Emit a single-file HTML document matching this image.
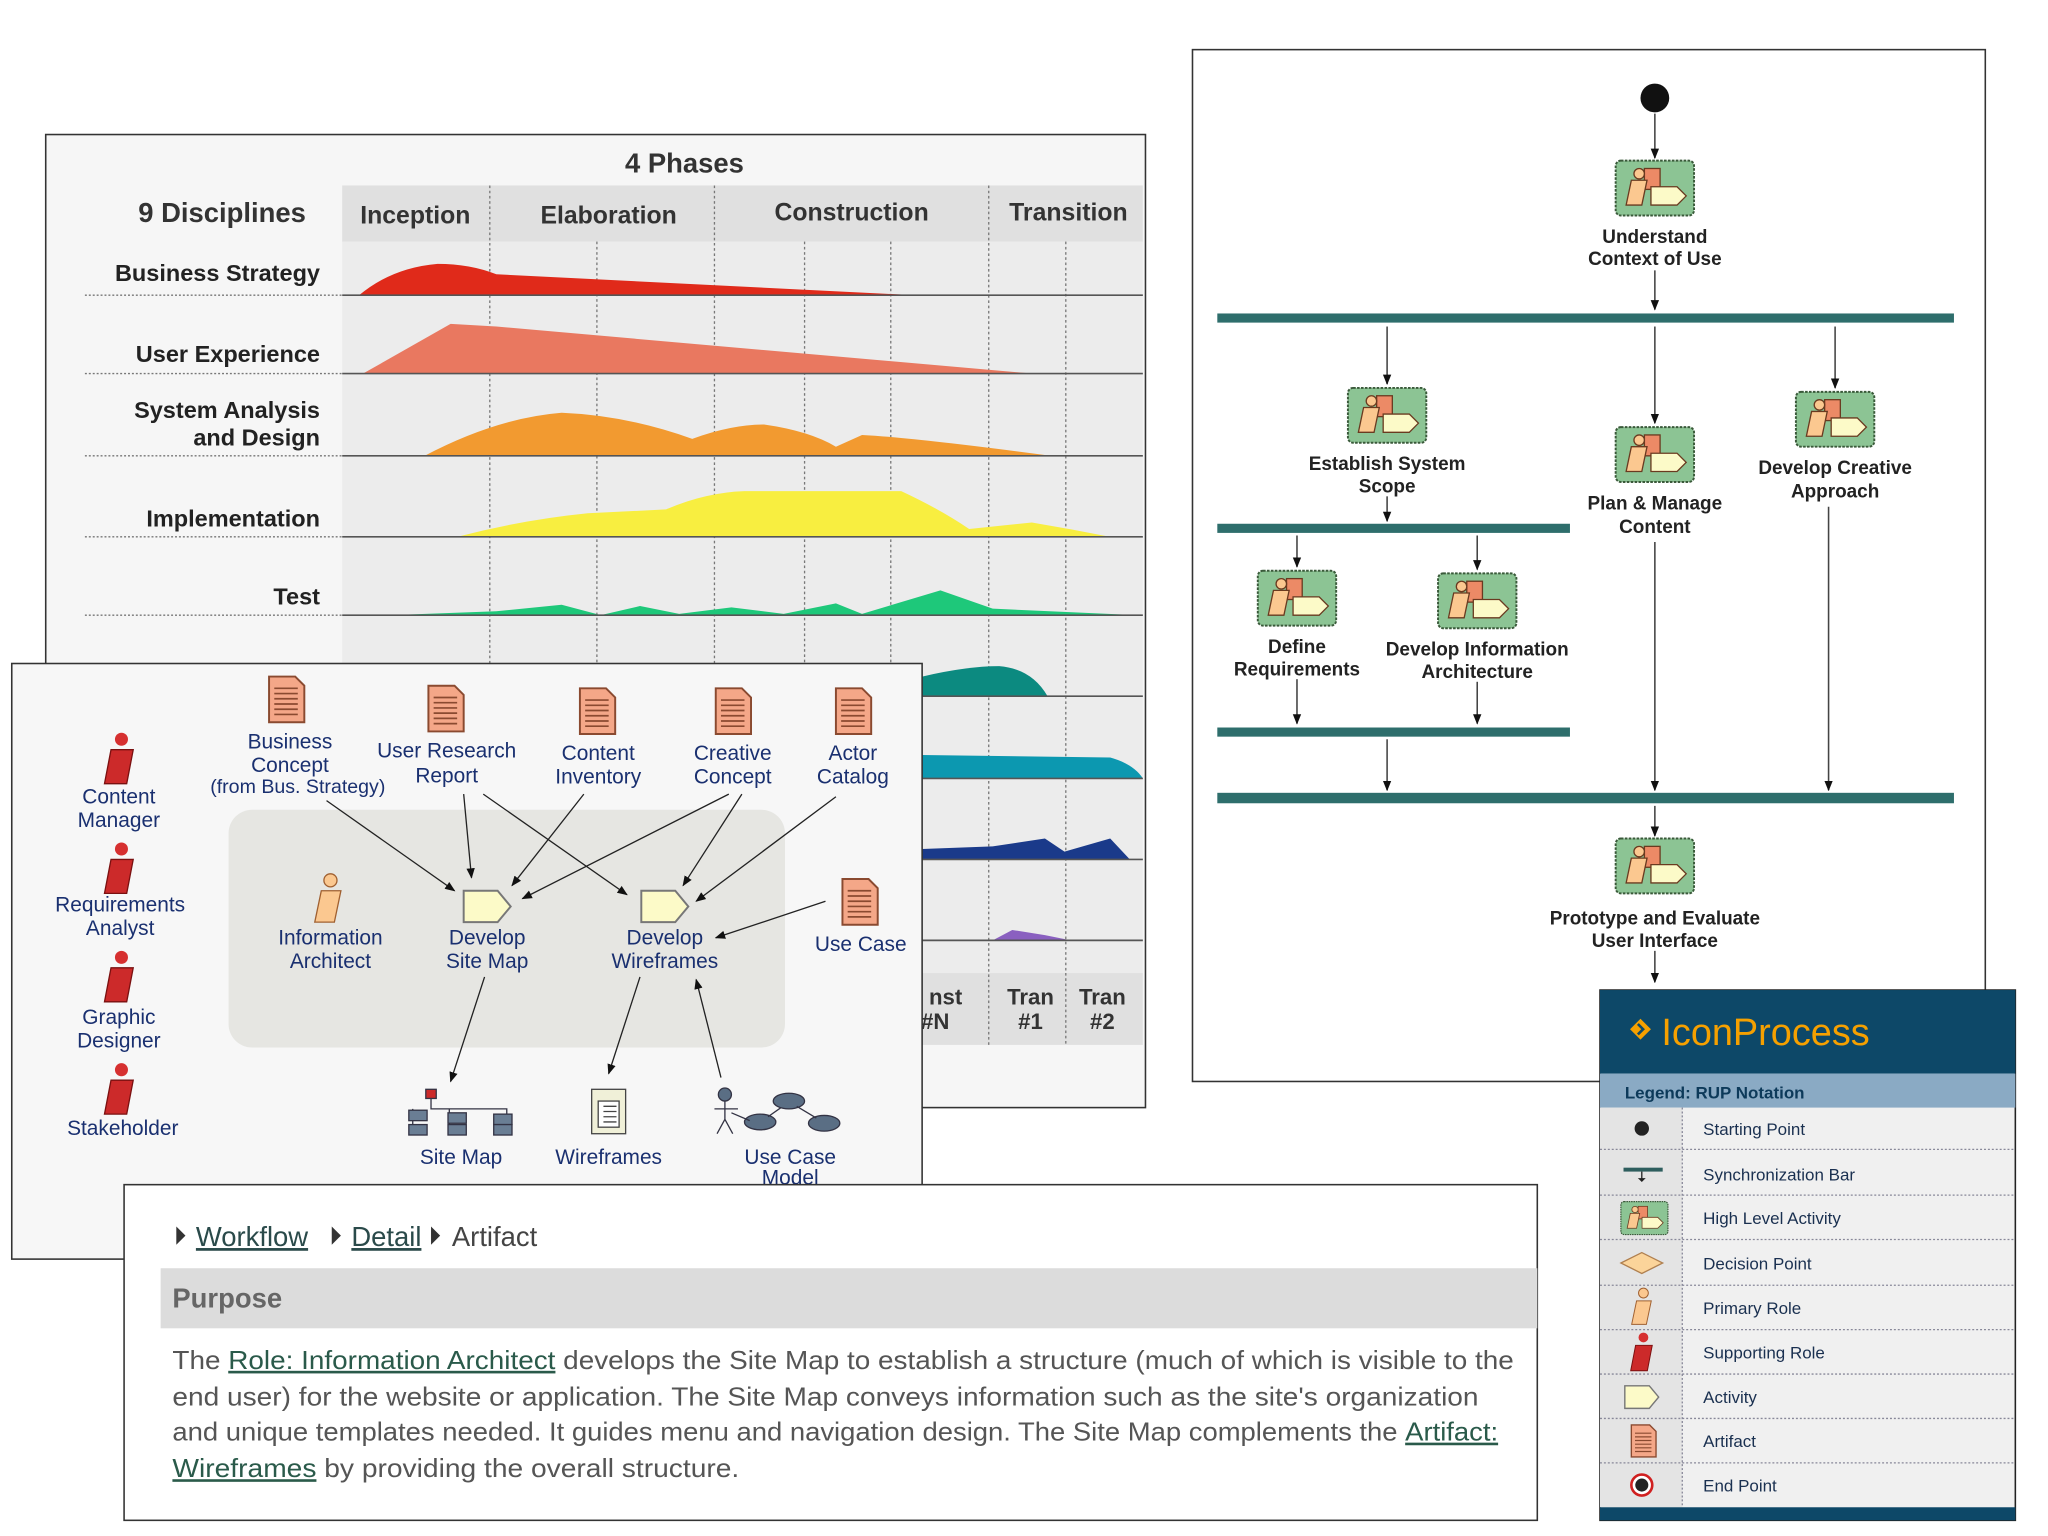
<!DOCTYPE html>
<html><head><meta charset="utf-8"><style>
html,body{margin:0;padding:0;background:#fff;width:2048px;height:1536px;overflow:hidden}
svg{display:block}
.lab{font-family:"Liberation Sans",sans-serif}
</style></head><body>
<svg width="2048" height="1536" viewBox="0 0 1568 1176" xmlns="http://www.w3.org/2000/svg" class="lab">
<defs>
<marker id="ah" viewBox="0 0 10 10" refX="9" refY="5" markerWidth="8" markerHeight="8" markerUnits="userSpaceOnUse" orient="auto"><path d="M0,1 L10,5 L0,9 z" fill="#111"/></marker>
<g id="art"><path d="M0,0 H20 L27,7 V35 H0 Z" fill="#f4a788" stroke="#8a4a30" stroke-width="1.5"/><path d="M4,9h18M4,13h18M4,17h18M4,21h18M4,25h18M4,29h18" stroke="#8a4a30" stroke-width="1.3"/></g>
<g id="role"><circle cx="3" cy="-4" r="5" fill="#d63030"/><path d="M-5,4 H12 L7,30 H-10 Z" fill="#cc2a2a" stroke="#7a1010"/></g>
<g id="prole"><circle cx="3" cy="-4" r="5" fill="#fbc890" stroke="#a06030"/><path d="M-4,4 H11 L6,28 H-9 Z" fill="#fbc890" stroke="#a06030"/></g>
<g id="act"><path d="M0,0 H26 L36,12 L26,24 H0 Z" fill="#fcfac8" stroke="#777" stroke-width="1.5"/></g>
<g id="hla"><rect x="0" y="0" width="60" height="42" rx="4" fill="#8cc494" stroke="#3a5a3a" stroke-width="1.5" stroke-dasharray="2 1"/><rect x="22" y="6" width="12" height="16" fill="#ec8a66" stroke="#6a3a20"/><circle cx="18" cy="10" r="4" fill="#fbc890" stroke="#6a3a20"/><path d="M12,15h12l-4,19h-12z" fill="#fbc890" stroke="#6a3a20"/><path d="M27,20h20l7,7l-7,7h-20z" fill="#fcfac8" stroke="#6a3a20"/></g>
</defs>

<!-- Panel A: phases chart -->
<rect x="35" y="103" width="842" height="745" fill="#f6f6f6" stroke="#333" stroke-width="1.2"/>
<rect x="262" y="185" width="613" height="560" fill="#ececec"/>
<rect x="262" y="142" width="613" height="43" fill="#e0e0e0"/>
<rect x="262" y="745" width="613" height="55" fill="#e0e0e0"/>
<g stroke="#777" stroke-dasharray="2 2" stroke-width="1">
<path d="M375,142V800M457,185V745M547,142V800M616,185V745M682,185V745M757,142V800M816,185V800"/>
</g>
<text x="524" y="132" font-size="21" font-weight="bold" fill="#333" text-anchor="middle">4 Phases</text>
<text x="170" y="170" font-size="21" font-weight="bold" fill="#333" text-anchor="middle">9 Disciplines</text>
<g font-size="19" font-weight="bold" fill="#333" text-anchor="middle">
<text x="318" y="171">Inception</text><text x="466" y="171">Elaboration</text><text x="652" y="169">Construction</text><text x="818" y="169">Transition</text>
<text x="789" y="769" font-size="17">Tran</text><text x="789" y="788" font-size="17">#1</text>
<text x="844" y="769" font-size="17">Tran</text><text x="844" y="788" font-size="17">#2</text>
<text x="724" y="769" font-size="17">nst</text><text x="716" y="788" font-size="17">#N</text>
</g>
<path d="M275,226 Q300,205 335,202 Q360,202 380,210 L700,226Z" fill="#e02a1a"/>
<path d="M278,286 L345,248 L380,250 L790,286Z" fill="#e97860"/>
<path d="M325,349 Q380,320 430,316 Q480,318 530,336 Q560,325 585,325 Q620,330 640,342 L660,333 Q700,335 805,349Z" fill="#f29a30"/>
<path d="M350,411 Q400,398 450,393 L510,390 Q540,377 570,376 L690,376 Q720,390 742,405 L790,400 Q820,405 850,411Z" fill="#f8ee40"/>
<path d="M300,471 L380,468 L430,463 L460,471 L490,464 L520,470 L560,465 L600,470 L640,462 L660,470 L720,452 L760,466 L870,471Z" fill="#1ec87a"/>
<path d="M706,533 L706,518 Q740,510 765,510 Q790,512 802,533Z" fill="#0c8a80"/>
<path d="M706,596 L706,578 L850,580 Q868,585 875,596Z" fill="#0c98b0"/>
<path d="M706,658 L706,650 L760,648 L800,642 L815,652 L850,642 L865,658Z" fill="#1a3a8a"/>
<path d="M760,720 L775,712 L800,716 L820,720Z" fill="#8a60c0"/>
<g stroke="#555" stroke-width="1.3">
<path d="M262,226H875M262,286H875M262,349H875M262,411H875M262,471H875M706,533H875M706,596H875M706,658H875M706,720H875"/>
</g>
<g stroke="#777" stroke-dasharray="1.5 1.5"><path d="M65,226H262M65,286H262M65,349H262M65,411H262M65,471H262"/></g>
<g font-size="18" font-weight="bold" fill="#222" text-anchor="end">
<text x="245" y="215">Business Strategy</text><text x="245" y="277">User Experience</text>
<text x="245" y="320">System Analysis</text><text x="245" y="341">and Design</text>
<text x="245" y="403">Implementation</text><text x="245" y="463">Test</text>
</g>

<!-- Panel D: workflow -->
<rect x="913" y="38" width="607" height="790" fill="#fff" stroke="#333" stroke-width="1.2"/>
<circle cx="1267" cy="75" r="11" fill="#111"/>
<g fill="#2e6e6c"><rect x="932" y="240" width="564" height="7"/><rect x="932" y="401" width="270" height="7"/><rect x="932" y="557" width="270" height="7"/><rect x="932" y="607" width="564" height="8"/></g>
<g stroke="#444" stroke-width="1.2" marker-end="url(#ah)">
<path d="M1267,87V121"/><path d="M1267,207V237"/><path d="M1062,250V294"/><path d="M1267,250V324"/><path d="M1405,250V297"/><path d="M1062,380V399"/><path d="M993,410V434"/><path d="M1131,410V436"/><path d="M993,520V554"/><path d="M1131,522V554"/><path d="M1062,566V605"/><path d="M1267,415V605"/><path d="M1400,388V605"/><path d="M1267,617V640"/><path d="M1267,728V752"/>
</g>
<use href="#hla" x="1237" y="123"/><use href="#hla" x="1032" y="297"/><use href="#hla" x="1237" y="327"/><use href="#hla" x="1375" y="300"/>
<use href="#hla" x="963" y="437"/><use href="#hla" x="1101" y="439"/><use href="#hla" x="1237" y="642"/>
<g font-size="14.5" font-weight="bold" fill="#222" text-anchor="middle">
<text x="1267" y="186">Understand</text><text x="1267" y="203">Context of Use</text>
<text x="1062" y="360">Establish System</text><text x="1062" y="377">Scope</text>
<text x="1267" y="390">Plan &amp; Manage</text><text x="1267" y="408">Content</text>
<text x="1405" y="363">Develop Creative</text><text x="1405" y="381">Approach</text>
<text x="993" y="500">Define</text><text x="993" y="517">Requirements</text>
<text x="1131" y="502">Develop Information</text><text x="1131" y="519">Architecture</text>
<text x="1267" y="708">Prototype and Evaluate</text><text x="1267" y="725">User Interface</text>
</g>

<!-- Panel B: detail -->
<rect x="9" y="508" width="697" height="456" fill="#f7f7f7" stroke="#333" stroke-width="1.2"/>
<rect x="175" y="620" width="426" height="182" rx="18" fill="#e6e6e2"/>
<use href="#role" x="90" y="570"/><use href="#role" x="90" y="654"/><use href="#role" x="90" y="737"/><use href="#role" x="90" y="823"/>
<use href="#art" x="206" y="518"/><use href="#art" x="328" y="525"/><use href="#art" x="444" y="527"/><use href="#art" x="548" y="527"/><use href="#art" x="640" y="527"/><use href="#art" x="645" y="673"/>
<use href="#prole" x="250" y="678"/>
<use href="#act" x="355" y="682"/><use href="#act" x="491" y="682"/>
<g fill="#6a7e94" stroke="#334"><rect x="326" y="834" width="8" height="7" fill="#cc2a2a"/><path d="M330,841V849H388V862M344,849V862M316,849V868" fill="none"/><rect x="313" y="850" width="14" height="8"/><rect x="313" y="861" width="14" height="8"/><rect x="343" y="852" width="14" height="8"/><rect x="343" y="861" width="14" height="8"/><rect x="378" y="853" width="14" height="8"/><rect x="378" y="861" width="14" height="8"/></g>
<g stroke="#444" fill="#f0f0d8"><rect x="453" y="834" width="26" height="34"/><rect x="458" y="843" width="16" height="20" fill="#fff"/><path d="M462,847h10M462,851h10M462,855h10M462,859h10"/></g>
<g fill="#5a6e84" stroke="#334"><circle cx="555" cy="838" r="5"/><path d="M555,843V857M547,849H565M555,857L549,868M555,857L561,868" fill="none"/><ellipse cx="604" cy="843" rx="12" ry="6"/><ellipse cx="582" cy="859" rx="12" ry="6"/><ellipse cx="631" cy="860" rx="12" ry="6"/><path d="M560,852L574,858M610,847L625,856M598,848L588,855" fill="none"/></g>
<g stroke="#222" stroke-width="1" marker-end="url(#ah)">
<path d="M250,613L348,682"/><path d="M355,608L361,672"/><path d="M447,608L392,678"/><path d="M370,608L480,685"/><path d="M558,608L400,688"/><path d="M568,608L523,678"/><path d="M640,610L533,690"/><path d="M632,690L548,718"/><path d="M371,748L345,828"/><path d="M490,748L466,822"/><path d="M552,825L533,750"/>
</g>
<g font-size="16" fill="#1a3070" text-anchor="middle">
<text x="91" y="615">Content</text><text x="91" y="633">Manager</text>
<text x="92" y="698">Requirements</text><text x="92" y="716">Analyst</text>
<text x="91" y="784">Graphic</text><text x="91" y="802">Designer</text>
<text x="94" y="869">Stakeholder</text>
<text x="222" y="573">Business</text><text x="222" y="591">Concept</text><text x="228" y="607" font-size="15">(from Bus. Strategy)</text>
<text x="342" y="580">User Research</text><text x="342" y="599">Report</text>
<text x="458" y="582">Content</text><text x="458" y="600">Inventory</text>
<text x="561" y="582">Creative</text><text x="561" y="600">Concept</text>
<text x="653" y="582">Actor</text><text x="653" y="600">Catalog</text>
<text x="253" y="723">Information</text><text x="253" y="741">Architect</text>
<text x="373" y="723">Develop</text><text x="373" y="741">Site Map</text>
<text x="509" y="723">Develop</text><text x="509" y="741">Wireframes</text>
<text x="659" y="728">Use Case</text>
<text x="353" y="891">Site Map</text><text x="466" y="891">Wireframes</text>
<text x="605" y="891">Use Case</text><text x="605" y="907">Model</text>
</g>

<!-- Panel C: description -->
<rect x="95" y="907" width="1082" height="257" fill="#fff" stroke="#333" stroke-width="1.2"/>
<g fill="#333"><path d="M135,939l7,7l-7,7z"/><path d="M254,939l7,7l-7,7z"/><path d="M330,939l7,7l-7,7z"/></g>
<g font-size="21" fill="#444">
<text x="150" y="954" text-decoration="underline" fill="#2a4a4a">Workflow</text>
<text x="269" y="954" text-decoration="underline" fill="#2a4a4a">Detail</text>
<text x="346" y="954">Artifact</text>
</g>
<rect x="123" y="971" width="1054" height="46" fill="#dcdcdc"/>
<text x="132" y="1001" font-size="21" font-weight="bold" fill="#666">Purpose</text>
<g font-size="20" fill="#555">
<text x="132" y="1048" textLength="1027" lengthAdjust="spacingAndGlyphs">The <tspan fill="#2a5a4a" text-decoration="underline">Role: Information Architect</tspan> develops the Site Map to establish a structure (much of which is visible to the</text>
<text x="132" y="1076" textLength="1000" lengthAdjust="spacingAndGlyphs">end user) for the website or application. The Site Map conveys information such as the site's organization</text>
<text x="132" y="1103" textLength="1015" lengthAdjust="spacingAndGlyphs">and unique templates needed. It guides menu and navigation design. The Site Map complements the <tspan fill="#2a5a4a" text-decoration="underline">Artifact:</tspan></text>
<text x="132" y="1131" textLength="434" lengthAdjust="spacingAndGlyphs"><tspan fill="#2a5a4a" text-decoration="underline">Wireframes</tspan> by providing the overall structure.</text>
</g>

<!-- Legend -->
<rect x="1225" y="758" width="318" height="406" fill="#f0f0f0" stroke="#222" stroke-width="1.2"/>
<rect x="1225" y="758" width="318" height="64" fill="#0d4868"/>
<rect x="1225" y="822" width="318" height="26" fill="#8aaac4"/>
<rect x="1225" y="848" width="63" height="306" fill="#e4e4e4"/>
<rect x="1225" y="1154" width="318" height="10" fill="#0d4868"/>
<path d="M1256,780l8,8l-8,8l-8,-8z" fill="#f5a000"/><path d="M1254,784l4,4l-4,4" stroke="#0d4868" stroke-width="2" fill="none"/>
<text x="1272" y="800" font-size="29" fill="#f5a000">IconProcess</text>
<text x="1244" y="841" font-size="13" font-weight="bold" fill="#0d3a5a">Legend: RUP Notation</text>
<g stroke="#889" stroke-dasharray="1.5 1.5" stroke-width="1"><path d="M1288,848V1154M1225,880H1543M1225,915H1543M1225,949H1543M1225,984H1543M1225,1018H1543M1225,1052H1543M1225,1086H1543M1225,1120H1543"/></g>
<circle cx="1257" cy="864" r="5.5" fill="#222"/>
<rect x="1243" y="894" width="30" height="3" fill="#2e5e5e"/><path d="M1257,897V904" stroke="#222"/><path d="M1254,902l3,3l3,-3z" fill="#222"/>
<g transform="translate(1241,920) scale(0.6)"><use href="#hla"/></g>
<path d="M1241,967l16,-8l16,8l-16,8z" fill="#fbd49a" stroke="#b08050"/>
<g transform="translate(1256,993) scale(0.75)"><use href="#prole"/></g>
<g transform="translate(1256,1027) scale(0.75)"><use href="#role"/></g>
<g transform="translate(1244,1061) scale(0.72)"><use href="#act"/></g>
<g transform="translate(1249,1091) scale(0.7)"><use href="#art"/></g>
<circle cx="1257" cy="1137" r="8" fill="#fff" stroke="#d02020" stroke-width="2"/><circle cx="1257" cy="1137" r="5" fill="#222"/>
<g font-size="13" fill="#1a3050">
<text x="1304" y="869">Starting Point</text><text x="1304" y="904">Synchronization Bar</text><text x="1304" y="937">High Level Activity</text>
<text x="1304" y="972">Decision Point</text><text x="1304" y="1006">Primary Role</text><text x="1304" y="1040">Supporting Role</text>
<text x="1304" y="1074">Activity</text><text x="1304" y="1108">Artifact</text><text x="1304" y="1142">End Point</text>
</g>
</svg>
</body></html>
